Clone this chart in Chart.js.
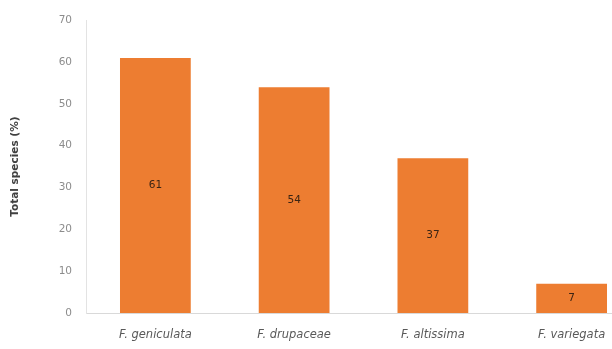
<!DOCTYPE html>
<html>
<head>
<meta charset="utf-8">
<script src="https://cdn.jsdelivr.net/npm/chart.js@4/dist/chart.umd.min.js"></script>
<style>
  html, body { margin: 0; padding: 0; background: #fff; overflow: hidden; }
  #wrap { width: 650px; height: 349px; }
</style>
</head>
<body>
<div id="wrap"><canvas id="c" width="650" height="349"></canvas></div>
<script>
const categories = ['F. geniculata', 'F. drupaceae', 'F. altissima', 'F. variegata'];
const totalSpecies = [61, 54, 37, 7];
const yTicks = [0, 10, 20, 30, 40, 50, 60, 70];

const FONT = '"DejaVu Sans", Verdana, sans-serif';

// Writes each bar's value in the middle of the bar
const barValueLabels = {
  id: 'barValueLabels',
  afterDatasetsDraw(chart) {
    const ctx = chart.ctx;
    const meta = chart.getDatasetMeta(0);
    ctx.save();
    ctx.font = '10.5px ' + FONT;
    ctx.fillStyle = '#3b2414';
    ctx.textAlign = 'center';
    ctx.textBaseline = 'middle';
    meta.data.forEach((bar, i) => {
      const v = chart.data.datasets[0].data[i];
      ctx.fillText(String(v), bar.x, (bar.y + bar.base) / 2);
    });
    ctx.restore();
  }
};

new Chart(document.getElementById('c'), {
  type: 'bar',
  data: {
    labels: categories,
    datasets: [{
      data: totalSpecies,
      backgroundColor: '#ED7D31',
      borderWidth: 0,
      barPercentage: 1,
      categoryPercentage: 0.51
    }]
  },
  options: {
    responsive: false,
    animation: false,
    devicePixelRatio: 1,
    layout: { padding: { top: 19, right: 9, left: 0, bottom: 0 } },
    plugins: { legend: { display: false }, tooltip: { enabled: false } },
    scales: {
      x: {
        grid: { display: false, drawTicks: false },
        border: { display: true, color: '#d9d9d9', width: 1 },
        ticks: {
          padding: 15,
          color: '#595959',
          font: { family: FONT, size: 11.5, style: 'italic' },
          maxRotation: 0,
          autoSkip: false
        },
        afterFit(scale) { scale.height = 36; }
      },
      y: {
        min: 0,
        max: 70,
        afterBuildTicks(scale) { scale.ticks = yTicks.map(v => ({ value: v })); },
        grid: { display: false, drawTicks: false },
        border: { display: true, color: '#e3e3e3', width: 1 },
        ticks: {
          padding: 14,
          color: '#8c8c8c',
          font: { family: FONT, size: 10.5 }
        },
        title: {
          display: true,
          text: 'Total species (%)',
          color: '#404040',
          font: { family: FONT, size: 10.5, weight: 'bold' },
          padding: { top: 9, bottom: 0 }
        },
        afterFit(scale) { scale.width = 86; }
      }
    }
  },
  plugins: [barValueLabels]
});
</script>
</body>
</html>
